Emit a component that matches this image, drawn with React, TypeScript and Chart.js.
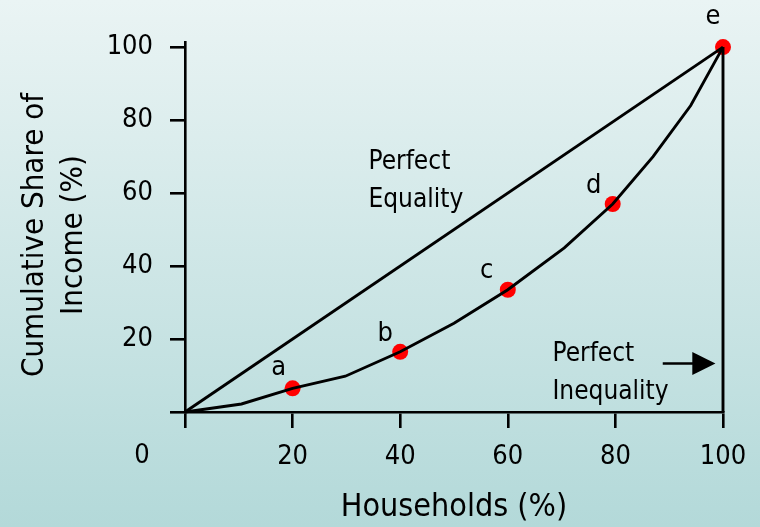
import React, { useEffect, useRef } from "react";
import { Chart, registerables } from "chart.js";

Chart.register(...registerables);

// ---- data ----
const xTickValues = [0, 20, 40, 60, 80, 100];
const yTickValues = [0, 20, 40, 60, 80, 100];
const equalityX = [0, 100];
const equalityY = [0, 100];
const lorenzX = [0, 10.5, 20, 29.8, 40, 50, 60, 70.5, 79.5, 87, 94, 100];
const lorenzY = [0, 2.2, 6.5, 9.8, 16.5, 24.3, 33.5, 45, 57, 70, 84, 100];
const inequalityX = [100, 100];
const inequalityY = [100, 0];
const pointLabels = ["a", "b", "c", "d", "e"];
const pointX = [20, 40, 60, 79.5, 100];
const pointY = [6.5, 16.5, 33.5, 57, 100];
const xTitle = "Households (%)";
const yTitleLines = ["Cumulative Share of", "Income (%)"];
const equalityText = ["Perfect", "Equality"];
const inequalityText = ["Perfect", "Inequality"];

const FONT = "'DejaVu Sans Condensed', 'DejaVu Sans', sans-serif";

const zip = (xs: number[], ys: number[]) => xs.map((x, i) => ({ x, y: ys[i] }));

const overlayPlugin = {
  id: "overlay",
  afterDraw(chart: any) {
    const { ctx, scales } = chart;
    const xs = scales.x;
    const ys = scales.y;
    const px = (v: number) => xs.getPixelForValue(v);
    const py = (v: number) => ys.getPixelForValue(v);
    ctx.save();
    ctx.fillStyle = "#000";
    ctx.strokeStyle = "#000";

    // y axis title (two rotated lines)
    ctx.font = `31px ${FONT}`;
    ctx.textAlign = "center";
    ctx.textBaseline = "middle";
    const cy = 235;
    [35, 74].forEach((cx, i) => {
      ctx.save();
      ctx.translate(cx, cy);
      ctx.rotate(-Math.PI / 2);
      ctx.fillText(yTitleLines[i], 0, 0);
      ctx.restore();
    });

    // "0" label left of origin
    ctx.font = `27px ${FONT}`;
    ctx.textAlign = "center";
    ctx.textBaseline = "middle";
    ctx.fillText("0", px(0) - 43, 456);

    // point labels
    const offs = [
      [-14, -13],
      [-15, -11],
      [-21, -12],
      [-19, -11],
      [-10, -23],
    ];
    ctx.font = `27px ${FONT}`;
    ctx.textAlign = "center";
    ctx.textBaseline = "alphabetic";
    pointLabels.forEach((l, i) => {
      ctx.fillText(l, px(pointX[i]) + offs[i][0], py(pointY[i]) + offs[i][1]);
    });

    // annotations
    ctx.font = `26px ${FONT}`;
    ctx.textAlign = "left";
    ctx.textBaseline = "alphabetic";
    equalityText.forEach((t, i) => ctx.fillText(t, px(34.1), py(66.6) + i * 38));
    inequalityText.forEach((t, i) => ctx.fillText(t, px(68.3), py(13.9) + i * 37.6));

    // arrow
    const ay = py(13.3);
    const x0 = px(88.8);
    const xh = px(94.3);
    const xt = px(98.6);
    ctx.lineWidth = 2.6;
    ctx.beginPath();
    ctx.moveTo(x0, ay);
    ctx.lineTo(xh + 2, ay);
    ctx.stroke();
    ctx.beginPath();
    ctx.moveTo(xh, ay - 11.5);
    ctx.lineTo(xt, ay);
    ctx.lineTo(xh, ay + 11.5);
    ctx.closePath();
    ctx.fill();
    ctx.restore();
  },
};

export default function App() {
  const ref = useRef<HTMLCanvasElement | null>(null);
  useEffect(() => {
    if (!ref.current) return;
    const lineDs = (data: any[]) => ({
      data,
      borderColor: "#000",
      borderWidth: 2.9,
      pointRadius: 0,
      showLine: true,
      fill: false,
      tension: 0,
      clip: false as any,
    });
    const chart = new Chart(ref.current, {
      type: "scatter",
      data: {
        datasets: [
          lineDs(zip(equalityX, equalityY)),
          lineDs(zip(lorenzX, lorenzY)),
          lineDs(zip(inequalityX, inequalityY)),
          {
            data: zip(pointX, pointY),
            backgroundColor: "#ff0000",
            borderWidth: 0,
            pointRadius: 8,
            showLine: false,
            clip: false as any,
          } as any,
        ],
      },
      options: {
        animation: false,
        responsive: false,
        devicePixelRatio: 1,
        layout: { padding: { top: 42, right: 37, bottom: 0, left: 0 } },
        plugins: {
          legend: { display: false },
          tooltip: { enabled: false },
        },
        scales: {
          x: {
            type: "linear",
            min: 0,
            max: 100,
            afterBuildTicks: (s: any) => {
              s.ticks = xTickValues.map((v) => ({ value: v }));
            },
            afterFit: (s: any) => {
              s.height = 115;
            },
            grid: {
              display: true,
              drawOnChartArea: false,
              drawTicks: true,
              tickLength: 16,
              color: "#000",
              lineWidth: 2.6,
            },
            border: { display: true, color: "#000", width: 2.6 },
            ticks: {
              color: "#000",
              padding: 13,
              maxRotation: 0,
              autoSkip: false,
              font: { family: FONT, size: 27 },
              callback: (v: any) => (v === 0 ? "" : String(v)),
            },
            title: {
              display: true,
              text: xTitle,
              color: "#000",
              padding: { top: 0, bottom: 0 },
              font: { family: FONT, size: 32 },
            },
          },
          y: {
            type: "linear",
            min: 0,
            max: 101.4,
            afterBuildTicks: (s: any) => {
              s.ticks = yTickValues.map((v) => ({ value: v }));
            },
            afterFit: (s: any) => {
              s.width = 185;
            },
            grid: {
              display: true,
              drawOnChartArea: false,
              drawTicks: true,
              tickLength: 15,
              color: "#000",
              lineWidth: 2.6,
            },
            border: { display: true, color: "#000", width: 2.6 },
            ticks: {
              color: "#000",
              padding: 17,
              autoSkip: false,
              font: { family: FONT, size: 27 },
              callback: (v: any) => (v === 0 ? "" : String(v)),
            },
          },
        },
      },
      plugins: [overlayPlugin],
    } as any);
    return () => chart.destroy();
  }, []);

  return (
    <div
      style={{
        position: "fixed",
        left: 0,
        top: 0,
        width: 760,
        height: 527,
        background: "linear-gradient(to bottom, #eaf4f4 0%, #b3d9d9 100%)",
      }}
    >
      <canvas ref={ref} width={760} height={527} style={{ display: "block" }} />
    </div>
  );
}
